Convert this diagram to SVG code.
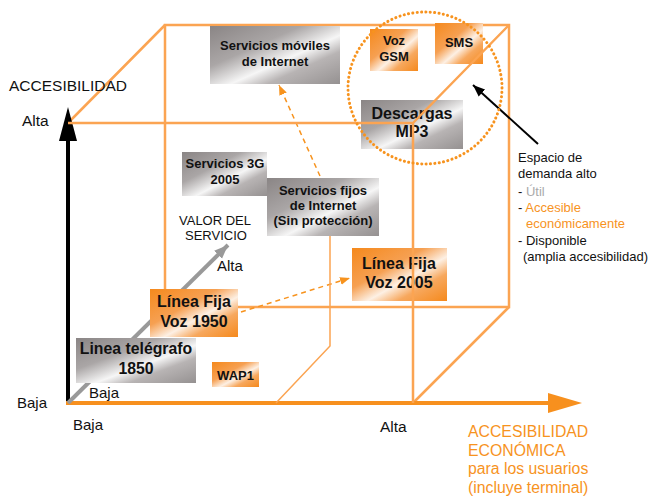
<svg xmlns="http://www.w3.org/2000/svg" width="654" height="499" viewBox="0 0 654 499">
<defs>
<linearGradient id="gGray" x1="0" y1="0" x2="1" y2="1">
<stop offset="0" stop-color="#8a8585"/>
<stop offset="0.35" stop-color="#aaa6a6"/>
<stop offset="0.58" stop-color="#f6f6f6"/>
<stop offset="0.72" stop-color="#b8b4b4"/>
<stop offset="1" stop-color="#959191"/>
</linearGradient>
<linearGradient id="gOrange" x1="0" y1="0" x2="1" y2="1">
<stop offset="0" stop-color="#f5891c"/>
<stop offset="0.38" stop-color="#f6a052"/>
<stop offset="0.58" stop-color="#fdf0e4"/>
<stop offset="0.74" stop-color="#f7a85e"/>
<stop offset="1" stop-color="#f5891c"/>
</linearGradient>
<marker id="mDash" viewBox="0 0 10 10" refX="10" refY="5" markerWidth="10" markerHeight="10" markerUnits="userSpaceOnUse" orient="auto">
<path d="M0,1 L10,5 L0,9 z" fill="#f7931e"/>
</marker>
<marker id="mBlack" viewBox="0 0 10 10" refX="10" refY="5" markerWidth="12" markerHeight="12" markerUnits="userSpaceOnUse" orient="auto">
<path d="M0,1 L10,5 L0,9 z" fill="#000"/>
</marker>
<marker id="mGray" viewBox="0 0 10 10" refX="10" refY="5" markerWidth="14" markerHeight="14" markerUnits="userSpaceOnUse" orient="auto">
<path d="M0,1 L10,5 L0,9 z" fill="#999"/>
</marker>
</defs>
<style>
.edge{fill:none;stroke:#fba452;stroke-width:2.5}
.thin{fill:none;stroke:#fba452;stroke-width:1.5}
.dash{fill:none;stroke:#f7931e;stroke-width:1.5;stroke-dasharray:5,4}
.gbox{fill:url(#gGray)}
.obox{fill:url(#gOrange)}
.bt{font-family:"Liberation Sans",Arial,sans-serif;font-weight:bold;fill:#111;text-anchor:middle}
.t{font-family:"Liberation Sans",Arial,sans-serif;fill:#111}
.or{fill:#f7931e}
</style>

<g id="cube-back">
<rect class="edge" x="165" y="25" width="344" height="282"/>
<path class="edge" d="M68,123 L165,25 M413,403 L509,307"/>
</g>

<g id="axes">
<line x1="68" y1="403" x2="68" y2="140" stroke="#000" stroke-width="4"/>
<path d="M68,107 L77,141 L59,141 z" fill="#000"/>
<line x1="66" y1="403" x2="550" y2="403" stroke="#f7901e" stroke-width="4"/>
<path d="M582,403 L548,393 L548,413 z" fill="#f7901e"/>
<line x1="68" y1="403" x2="228" y2="245" stroke="#999" stroke-width="4" marker-end="url(#mGray)"/>
</g>

<g id="connectors">
<line class="dash" x1="320" y1="176" x2="279" y2="85" marker-end="url(#mDash)"/>
<line class="dash" x1="241" y1="312" x2="350" y2="278" marker-end="url(#mDash)"/>
<path class="thin" d="M330,236 V346 L276,403"/>
<line x1="538" y1="144" x2="473" y2="85" stroke="#000" stroke-width="2" marker-end="url(#mBlack)"/>
</g>

<g id="n-moviles">
<rect class="gbox" x="210" y="26" width="130" height="58"/>
<text class="bt" font-size="13" x="275" y="50">Servicios móviles</text>
<text class="bt" font-size="13" x="275" y="66">de Internet</text>
</g>
<g id="n-gsm">
<rect class="obox" x="370" y="29" width="48" height="42"/>
<text class="bt" font-size="13" x="394" y="45">Voz</text>
<text class="bt" font-size="13" x="394" y="61">GSM</text>
</g>
<g id="n-sms">
<rect class="obox" x="435" y="23" width="48" height="41"/>
<text class="bt" font-size="13" x="459" y="47">SMS</text>
</g>
<g id="n-mp3">
<rect class="gbox" x="361" y="100" width="102" height="49"/>
<text class="bt" font-size="16" x="412" y="119">Descargas</text>
<text class="bt" font-size="16" x="412" y="137">MP3</text>
</g>
<g id="n-3g">
<rect class="gbox" x="182" y="152" width="85" height="44"/>
<text class="bt" font-size="13" x="225" y="168">Servicios 3G</text>
<text class="bt" font-size="13" x="225" y="184">2005</text>
</g>
<g id="n-fijos">
<rect class="gbox" x="267" y="178" width="112" height="58"/>
<text class="bt" font-size="13" x="323" y="195">Servicios fijos</text>
<text class="bt" font-size="13" x="323" y="210">de Internet</text>
<text class="bt" font-size="13" x="323" y="225">(Sin protección)</text>
</g>
<g id="n-voz2005">
<rect class="obox" x="352" y="248" width="95" height="53"/>
<text class="bt" font-size="16" x="399" y="269">Línea Fija</text>
<text class="bt" font-size="16" x="399" y="288">Voz 2005</text>
</g>
<g id="n-voz1950">
<rect class="obox" x="150" y="289" width="88" height="48"/>
<text class="bt" font-size="16" x="194" y="307">Línea Fija</text>
<text class="bt" font-size="16" x="194" y="327">Voz 1950</text>
</g>
<g id="n-telegrafo">
<rect class="gbox" x="76" y="338" width="120" height="45"/>
<text class="bt" font-size="15.8" x="136" y="354">Linea telégrafo</text>
<text class="bt" font-size="15.8" x="136" y="374">1850</text>
</g>
<g id="n-wap">
<rect class="obox" x="212" y="362" width="47" height="25"/>
<text class="bt" font-size="13" x="235.5" y="380">WAP1</text>
</g>

<g id="cube-front">
<path class="edge" d="M68,123 H413 V403 M413,123 L509,25"/>
</g>

<g id="circle">
<ellipse cx="425" cy="88" rx="77" ry="76" fill="none" stroke="#f7931e" stroke-width="3" stroke-dasharray="0.1,4.3" stroke-linecap="round"/>
</g>

<g id="labels">
<text class="t" font-size="15.5" x="9" y="91">ACCESIBILIDAD</text>
<text class="t" font-size="15.5" x="22" y="126">Alta</text>
<text class="t" font-size="15" x="17" y="408">Baja</text>
<text class="t" font-size="15" x="89" y="398">Baja</text>
<text class="t" font-size="15" x="73" y="430">Baja</text>
<text class="t" font-size="15.5" x="380" y="432">Alta</text>
<text class="t" font-size="15" x="217" y="271">Alta</text>
<text class="t" font-size="13" x="179" y="225">VALOR DEL</text>
<text class="t" font-size="13" x="185" y="240">SERVICIO</text>
<text class="t or" font-size="15.8" x="468" y="437">ACCESIBILIDAD</text>
<text class="t or" font-size="15.8" x="468" y="456">ECONÓMICA</text>
<text class="t or" font-size="15.8" x="468" y="474">para los usuarios</text>
<text class="t or" font-size="15.8" x="468" y="493">(incluye terminal)</text>
<text class="t" font-size="13" x="518" y="162">Espacio de</text>
<text class="t" font-size="13" x="518" y="178">demanda alto</text>
<text class="t" font-size="13" x="518" y="196">- <tspan fill="#aaa">Útil</tspan></text>
<text class="t" font-size="13" x="518" y="212">- <tspan class="or">Accesible</tspan></text>
<text class="t or" font-size="13" x="526" y="228">económicamente</text>
<text class="t" font-size="13" x="518" y="245">- Disponible</text>
<text class="t" font-size="13" x="523" y="261">(amplia accesibilidad)</text>
</g>
</svg>
